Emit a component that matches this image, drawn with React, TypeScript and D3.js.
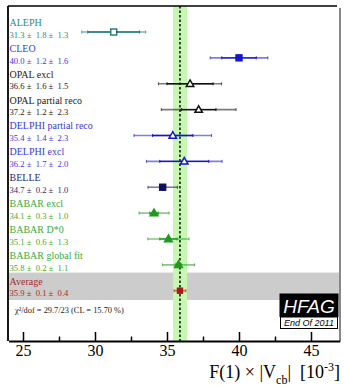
import React, { useEffect, useRef } from "react";
import * as d3 from "d3";

const experiments = [
  "ALEPH",
  "CLEO",
  "OPAL excl",
  "OPAL partial reco",
  "DELPHI partial reco",
  "DELPHI excl",
  "BELLE",
  "BABAR excl",
  "BABAR D*0",
  "BABAR global fit",
  "Average",
];
const centralValues = [31.3, 40.0, 36.6, 37.2, 35.4, 36.2, 34.7, 34.1, 35.1, 35.8, 35.9];
const statErrors = [1.8, 1.2, 1.6, 1.2, 1.4, 1.7, 0.2, 0.3, 0.6, 0.2, 0.1];
const systErrors = [1.3, 1.6, 1.5, 2.3, 2.3, 2.0, 1.0, 1.0, 1.3, 1.1, 0.4];

// average band edges
const bandLow = 35.42;
const bandHigh = 36.39;

const majorTicks = [25, 30, 35, 40, 45];
const minorTicks = [27.5, 32.5, 37.5, 42.5];
const chi2Text = "χ²/dof = 29.7/23 (CL = 15.70 %)";

// styles per row
const textColors = ["#2e8a8a", "#3838e8", "#222", "#222", "#3a3ad8", "#3a3ad8", "#2a2a70", "#3aaa3a", "#3aaa3a", "#3aaa3a", "#a82a2a"];
const markColors = ["#1f7777", "#1515cc", "#111", "#111", "#1515cc", "#1515cc", "#10105e", "#1f9a1f", "#1f9a1f", "#1f9a1f", "#b01515"];
const markShapes = ["openSquare", "square", "openTri", "openTri", "openTri", "openTri", "square", "tri", "tri", "tri", "square"];

const W = 344;
const H = 389;
const serif = "'Liberation Serif', 'Times New Roman', serif";

function Marker({ shape, color, cx, cy }: { shape: string; color: string; cx: number; cy: number }) {
  if (shape === "openSquare" || shape === "square") {
    const s = shape === "square" && color === "#b01515" ? 5 : 6;
    return (
      <rect
        x={cx - s / 2}
        y={cy - s / 2}
        width={s}
        height={s}
        fill={shape === "square" ? color : "white"}
        stroke={color}
        strokeWidth={1.4}
      />
    );
  }
  const tri = d3.symbol().type(d3.symbolTriangle).size(shape === "tri" ? 26 : 24)();
  return (
    <path
      d={tri || ""}
      transform={`translate(${cx},${cy + 0.5})`}
      fill={shape === "tri" ? color : "white"}
      stroke={color}
      strokeWidth={1.5}
    />
  );
}

export default function App() {
  const axisRef = useRef<SVGGElement>(null);

  const x = d3.scaleLinear().domain([24, 47]).range([8.6, 339.8]);
  const y = d3.scaleLinear().domain([0, experiments.length - 1]).range([32, 290.7]);
  const step = y(1) - y(0);

  const top = 6;
  const bottom = 341;

  useEffect(() => {
    const g = d3.select(axisRef.current);
    g.selectAll("*").remove();
    g.append("g")
      .call(d3.axisBottom(x).tickValues(majorTicks).tickSizeInner(-9).tickSizeOuter(0).tickPadding(4).tickFormat(d3.format("d")))
      .call((a) => a.select(".domain").attr("stroke-width", 1.8))
      .call((a) => a.selectAll(".tick line").attr("stroke-width", 1.5))
      .call((a) =>
        a.selectAll(".tick text").attr("font-family", serif).attr("font-size", 16).attr("fill", "#000")
      );
    g.append("g")
      .call(d3.axisBottom(x).tickValues(minorTicks).tickSizeInner(-4.5).tickSizeOuter(0).tickFormat(() => ""))
      .call((a) => a.select(".domain").remove())
      .call((a) => a.selectAll(".tick line").attr("stroke-width", 1.5));
  }, []);

  const last = experiments.length - 1;

  return (
    <svg width={W} height={H} style={{ position: "absolute", left: 0, top: 0, background: "white" }}>
      {/* average row shading */}
      <rect x={8} y={y(last) - 0.7 * step} width={332} height={1.06 * step} fill="#cccccc" />
      {/* average band */}
      <rect x={x(bandLow)} y={top} width={x(bandHigh) - x(bandLow)} height={bottom - top} fill="#c8f7b4" />
      <line
        x1={x(centralValues[last])}
        x2={x(centralValues[last])}
        y1={top}
        y2={bottom}
        stroke="#000"
        strokeWidth={1.4}
        strokeDasharray="2.5,2"
      />

      {/* frame */}
      <line x1={8} x2={8} y1={top} y2={bottom} stroke="#000" strokeWidth={1.8} />
      <line x1={8} x2={337} y1={top} y2={top} stroke="#000" strokeWidth={1.3} />
      <line x1={340} x2={340} y1={top + 2} y2={bottom} stroke="#888" strokeWidth={2} />

      {experiments.map((name, i) => {
        const cy = y(i);
        const c = centralValues[i];
        const tot = Math.sqrt(statErrors[i] ** 2 + systErrors[i] ** 2);
        const col = markColors[i];
        const caps = [c - tot, c + tot, c - statErrors[i], c + statErrors[i]];
        return (
          <g key={name}>
            <text x={9.5} y={cy - 6} style={{ fontFamily: serif }} fontSize={10} fill={textColors[i]}>
              {name}
            </text>
            <text x={9.5} y={cy + 5.7} style={{ fontFamily: serif, whiteSpace: "pre" }} fontSize={8.6} fill={textColors[i]}>
              {`${c.toFixed(1)} ±  ${statErrors[i].toFixed(1)} ±  ${systErrors[i].toFixed(1)}`}
            </text>
            <line x1={x(c - tot)} x2={x(c + tot)} y1={cy} y2={cy} stroke={col} strokeOpacity={0.55} strokeWidth={1.6} />
            <line x1={x(c - statErrors[i])} x2={x(c + statErrors[i])} y1={cy} y2={cy} stroke={col} strokeWidth={1.4} />
            {caps.map((v, k) => (
              <line key={k} x1={x(v)} x2={x(v)} y1={cy - 1.5} y2={cy + 1.5} stroke={col} strokeOpacity={k < 2 ? 0.7 : 1} strokeWidth={1} />
            ))}
            <Marker shape={markShapes[i]} color={col} cx={x(c)} cy={cy} />
          </g>
        );
      })}

      <text x={15} y={313} style={{ fontFamily: serif }} fontSize={8.4} fill="#222">
        {chi2Text}
      </text>

      {/* logo */}
      <rect x={279.5} y={293.5} width={59} height={23.5} fill="#000" />
      <text x={309} y={313} textAnchor="middle" fontFamily="'Liberation Sans', Arial, sans-serif" fontStyle="italic" fontSize={19} fill="#fff">
        HFAG
      </text>
      <rect x={280.5} y={317} width={57} height={11.5} fill="#fff" stroke="#000" strokeWidth={1} />
      <text x={309} y={326.3} textAnchor="middle" fontFamily="'Liberation Sans', Arial, sans-serif" fontStyle="italic" fontSize={9} fill="#000">
        End Of 2011
      </text>

      <g ref={axisRef} transform={`translate(0,${bottom})`} />

      <text x={340} y={378} textAnchor="end" style={{ fontFamily: serif, whiteSpace: "pre" }} fontSize={18} fill="#000">
        <tspan>F(1) × |V</tspan>
        <tspan fontSize={12} dy={6}>cb</tspan>
        <tspan dy={-6}>|  [10</tspan>
        <tspan fontSize={12} dy={-7}>-3</tspan>
        <tspan dy={7}>]</tspan>
      </text>
    </svg>
  );
}
